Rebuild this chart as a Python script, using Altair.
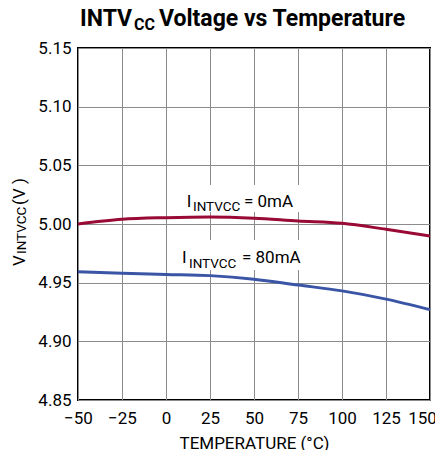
import altair as alt
import pandas as pd

temps = [-50, -25, 0, 25, 50, 75, 100, 125, 150]
v_0mA = [5.000, 5.004, 5.0054, 5.006, 5.005, 5.0026, 5.0006, 4.9955, 4.9898]
v_80mA = [4.9594, 4.958, 4.957, 4.956, 4.953, 4.948, 4.943, 4.936, 4.927]
series_names = ["0mA", "80mA"]
x_ticks = [-50, -25, 0, 25, 50, 75, 100, 125, 150]
y_ticks = [4.85, 4.90, 4.95, 5.00, 5.05, 5.10, 5.15]

FONT = "Roboto"
RED = "#990a36"
BLUE = "#3a55a5"

df = pd.DataFrame({
    "temp": temps + temps,
    "v": v_0mA + v_80mA,
    "series": [series_names[0]] * len(temps) + [series_names[1]] * len(temps),
})

W, H = 352, 352

lines = alt.Chart(df).mark_line(strokeWidth=3, interpolate="monotone").encode(
    x=alt.X("temp:Q", scale=alt.Scale(domain=[-50, 150], nice=False),
            axis=alt.Axis(values=x_ticks, format="d", title="TEMPERATURE (°C)",
                          titlePadding=9, labelPadding=10, labelOverlap=False,
                          labelFlush=False,
                          labelOffset={"condition": {"test": "datum.value == 150", "value": -8},
                                       "value": 0})),
    y=alt.Y("v:Q", scale=alt.Scale(domain=[4.85, 5.15], nice=False, zero=False),
            axis=alt.Axis(values=y_ticks, format=".2f", title=None, labelPadding=7,
                          labelOverlap=False, labelFlush=False)),
    color=alt.Color("series:N", scale=alt.Scale(domain=series_names, range=[RED, BLUE]), legend=None),
)

box_df = pd.DataFrame({"x1": [5.0, 3.0], "x2": [77.0, 79.0], "y1": [5.0332, 4.9864], "y2": [5.0102, 4.9608]})
boxes = alt.Chart(box_df).mark_rect(color="white").encode(
    x="x1:Q", x2="x2:Q", y="y1:Q", y2="y2:Q"
)

dummy = pd.DataFrame({"a": [0]})


def seg(text, x, y, size, angle=0, weight="normal"):
    return alt.Chart(dummy).mark_text(
        text=text, align="left", baseline="alphabetic", fontSize=size, font=FONT,
        fontWeight=weight, angle=angle, color="black"
    ).encode(x=alt.value(x), y=alt.value(y))


texts = [
    # title
    seg("INTV", 2, -22, 23, weight="bold"),
    seg("CC", 56, -18, 16, weight="bold"),
    seg("Voltage vs Temperature", 81, -22, 23, weight="bold"),
    # label 0mA
    seg("I", 108.7, 159, 17),
    seg("INTVCC", 115, 163, 13.5),
    seg("= 0mA", 166, 159, 17),
    # label 80mA
    seg("I", 104, 215, 17),
    seg("INTVCC", 111, 220, 13.5),
    seg("= 80mA", 164, 215, 17),
    # y title
    seg("V", -53, 218, 17, angle=270),
    seg("INTVCC", -52.5, 206, 13.5, angle=270),
    seg("(V )", -53, 157, 17, angle=270),
]

chart = alt.layer(boxes, lines, *texts).properties(
    width=W, height=H,
    autosize=alt.AutoSizeParams(type="none"),
    padding={"left": 70, "top": 40, "right": 5, "bottom": 50},
).configure_view(stroke="black", strokeWidth=2).configure_axis(
    labelFont=FONT, labelFontSize=17, labelColor="black",
    titleFont=FONT, titleFontSize=17, titleFontWeight="normal", titleColor="black",
    grid=True, gridColor="#8c8c8c", gridWidth=1, domain=False, ticks=False,
)

chart.save("out.html", embed_options={"renderer": "svg", "actions": False})
